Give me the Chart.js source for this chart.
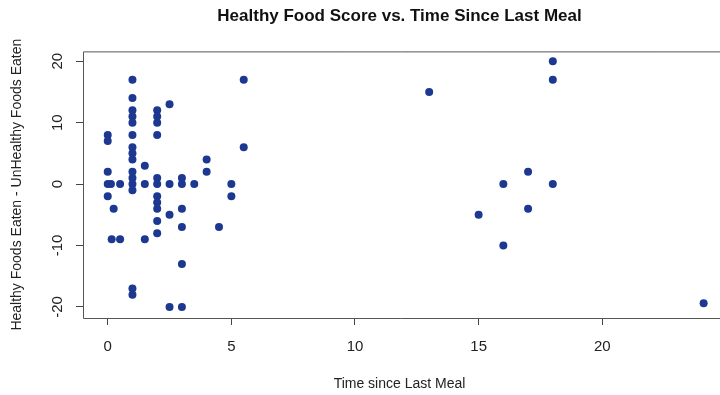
<!DOCTYPE html>
<html>
<head>
<meta charset="utf-8">
<script src="https://cdn.jsdelivr.net/npm/chart.js@4/dist/chart.umd.min.js"></script>
<style>
  html, body { margin: 0; padding: 0; background: #fff; }
  #wrap { width: 720px; height: 395px; }
</style>
</head>
<body>
<div id="wrap"><canvas id="scatterChart" width="720" height="395"></canvas></div>
<script>
// time since last meal (hours) and healthy - unhealthy score
var timeSinceMeal = [
  0, 0, 0, 0, 0, 0.13, 0.24, 0.16, 0.5, 0.5,
  1, 1, 1, 1, 1, 1, 1, 1, 1, 1, 1, 1, 1, 1, 1,
  1.5, 1.5, 1.5,
  2, 2, 2, 2, 2, 2, 2, 2, 2, 2, 2,
  2.5, 2.5, 2.5, 2.5,
  3, 3, 3, 3, 3, 3,
  3.5, 4, 4, 4.5, 5, 5, 5.5, 5.5,
  13, 15, 16, 16, 17, 17, 18, 18, 18, 24.1
];
var foodScore = [
  8, 7, 2, 0, -2, 0, -4, -9, 0, -9,
  17, 14, 12, 11, 10, 8, 6, 5, 4, 2, 1, 0, -1, -17, -18,
  3, 0, -9,
  12, 11, 10, 8, 1, 0, -2, -3, -4, -6, -8,
  13, 0, -5, -20,
  1, 0, -4, -7, -13, -20,
  0, 4, 2, -7, 0, -2, 17, 6,
  15, -5, 0, -10, 2, -4, 20, 17, 0, -19.4
];
var xTicks = [0, 5, 10, 15, 20];
var yTicks = [-20, -10, 0, 10, 20];

var points = [];
for (var i = 0; i < timeSinceMeal.length; i++) {
  points.push({x: timeSinceMeal[i], y: foodScore[i]});
}

var fontName = '"Liberation Sans", Arial, sans-serif';

// R style frame: left, top and bottom edges of the plot region
var frameBox = {
  id: 'frameBox',
  afterDatasetsDraw: function(chart) {
    var a = chart.chartArea, ctx = chart.ctx;
    ctx.save();
    ctx.strokeStyle = '#555';
    ctx.lineWidth = 1;
    ctx.beginPath();
    ctx.moveTo(720, a.top + 0.5);
    ctx.lineTo(a.left + 0.5, a.top + 0.5);
    ctx.lineTo(a.left + 0.5, a.bottom + 0.5);
    ctx.lineTo(720, a.bottom + 0.5);
    ctx.stroke();
    ctx.restore();
  }
};

// y tick labels turned on their side like base R
var sideLabels = {
  id: 'sideLabels',
  afterDraw: function(chart) {
    var ys = chart.scales.y, ctx = chart.ctx;
    ctx.save();
    ctx.fillStyle = '#222';
    ctx.font = '15px ' + fontName;
    ctx.textAlign = 'center';
    ctx.textBaseline = 'middle';
    yTicks.forEach(function(v) {
      ctx.save();
      ctx.translate(58, ys.getPixelForValue(v));
      ctx.rotate(-Math.PI / 2);
      ctx.fillText(String(v), 0, 0);
      ctx.restore();
    });
    ctx.restore();
  }
};

var ctx = document.getElementById('scatterChart').getContext('2d');
var chart = new Chart(ctx, {
  type: 'scatter',
  data: {
    datasets: [{
      data: points,
      backgroundColor: '#1c3890',
      borderColor: '#1c3890',
      borderWidth: 0,
      pointRadius: 4,
      pointHoverRadius: 4
    }]
  },
  options: {
    responsive: false,
    animation: false,
    layout: { padding: 0 },
    plugins: {
      legend: { display: false },
      tooltip: { enabled: false },
      title: {
        display: true,
        fullSize: false,
        text: 'Healthy Food Score vs. Time Since Last Meal',
        color: '#111',
        font: { family: fontName, size: 17, weight: 'bold' },
        padding: { top: 6, bottom: 25 }
      }
    },
    scales: {
      x: {
        type: 'linear',
        min: -1.0,
        max: 24.6,
        afterBuildTicks: function(scale) {
          scale.ticks = xTicks.map(function(v) { return {value: v}; });
        },
        afterFit: function(scale) { scale.height = 77; },
        grid: { display: true, drawOnChartArea: false, drawTicks: true, tickLength: 7, color: '#444' },
        border: { display: false },
        ticks: {
          color: '#222',
          padding: 13,
          maxRotation: 0,
          font: { family: fontName, size: 15 }
        },
        title: {
          display: true,
          text: 'Time since Last Meal',
          color: '#222',
          font: { family: fontName, size: 14 },
          padding: { top: 0, bottom: 2 }
        }
      },
      y: {
        type: 'linear',
        min: -21.8,
        max: 21.6,
        afterBuildTicks: function(scale) {
          scale.ticks = yTicks.map(function(v) { return {value: v}; });
        },
        afterFit: function(scale) { scale.width = 83; },
        grid: { display: true, drawOnChartArea: false, drawTicks: true, tickLength: 7, color: '#444' },
        border: { display: false },
        ticks: { display: false },
        title: {
          display: true,
          text: 'Healthy Foods Eaten - UnHealthy Foods Eaten',
          color: '#222',
          font: { family: fontName, size: 14 },
          padding: { top: 9, bottom: 0 }
        }
      }
    }
  },
  plugins: [frameBox, sideLabels]
});
</script>
</body>
</html>
